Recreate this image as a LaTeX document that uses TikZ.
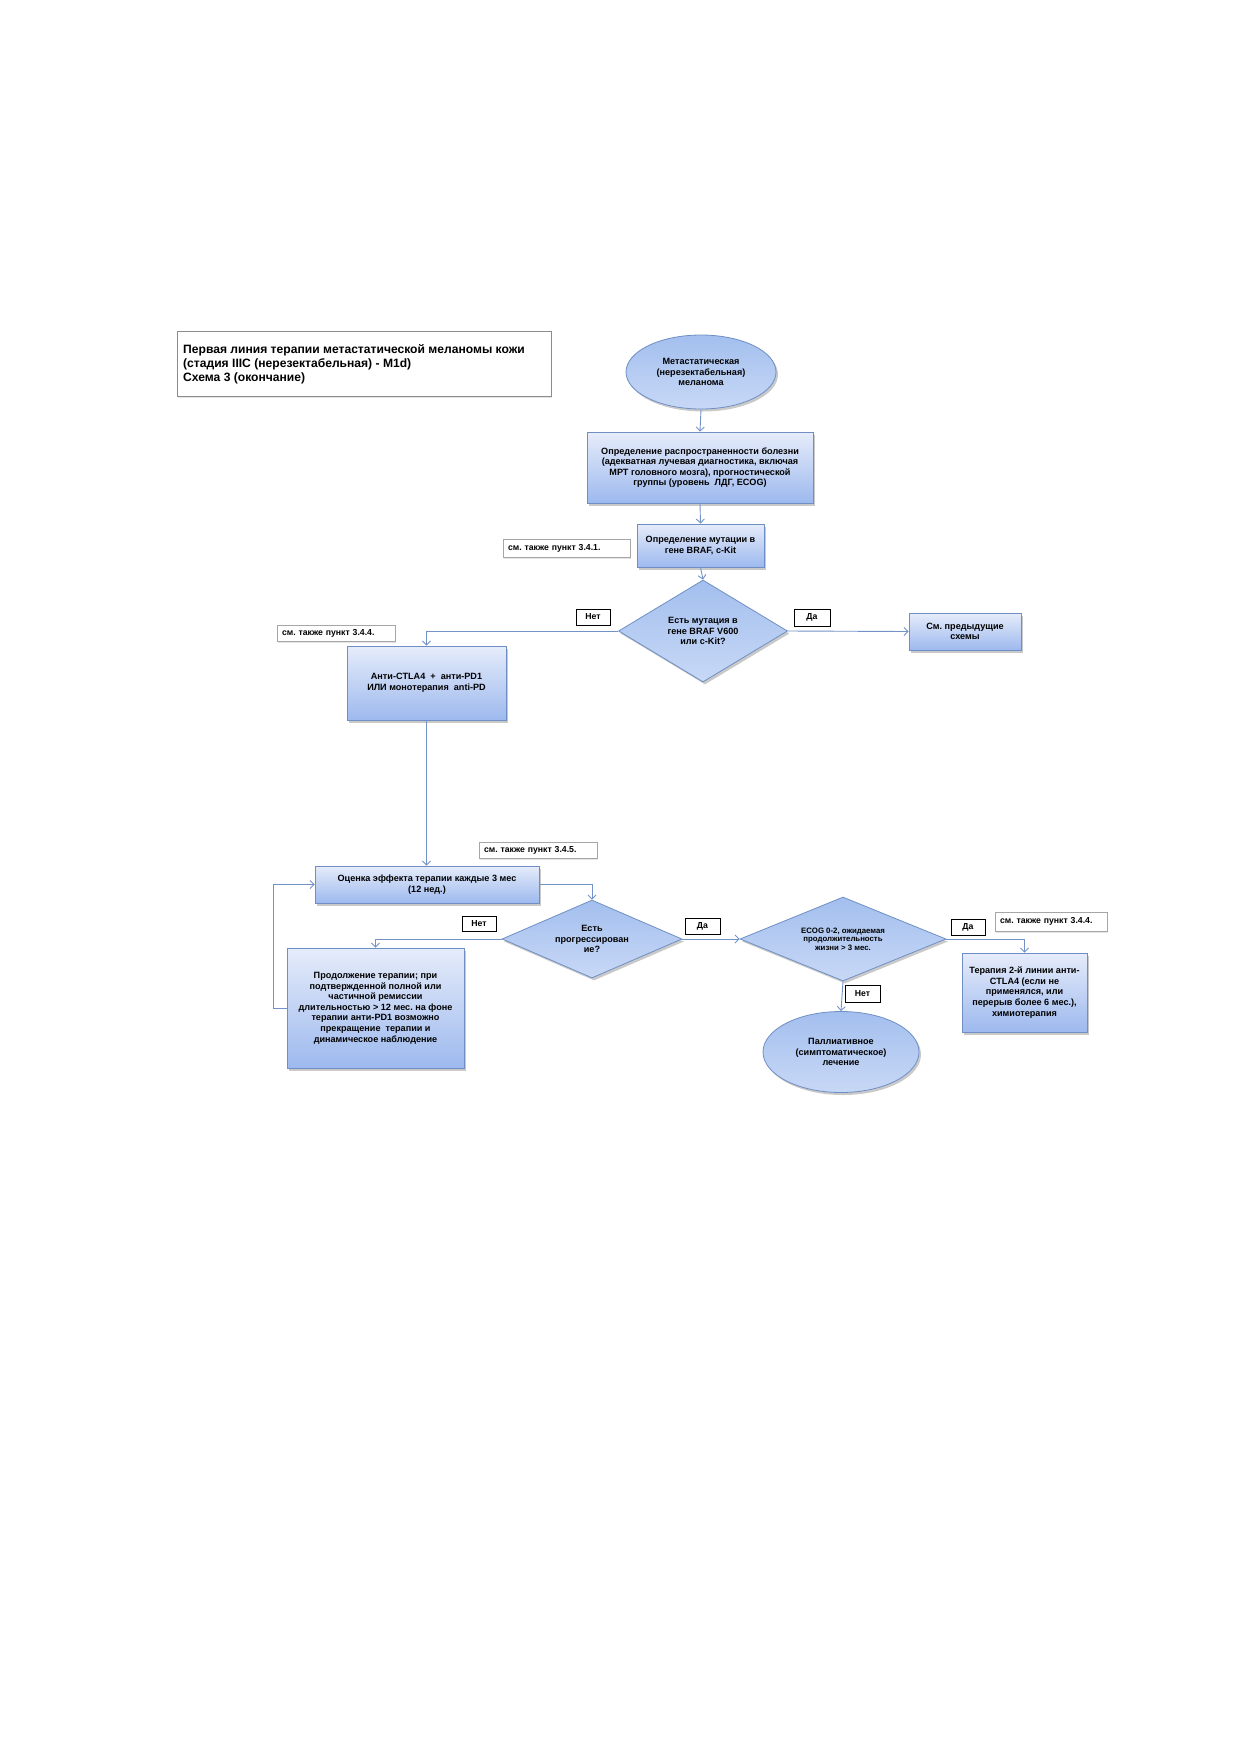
\documentclass[tikz,border=0pt]{standalone}
\usepackage{fontspec}
\setmainfont{Liberation Sans}
\frenchspacing
\usetikzlibrary{shapes.geometric,arrows.meta,shadows,shadings}
\definecolor{bordc}{HTML}{6F8FC4}
\definecolor{linec}{HTML}{7393C8}
\definecolor{topc}{HTML}{E6ECFA}
\definecolor{botc}{HTML}{9DB9EE}
\definecolor{dtop}{HTML}{A3BFEE}
\definecolor{dbot}{HTML}{C8D8F6}
\tikzset{
  txt/.style={font=\fontsize{9.1}{10.6}\selectfont\bfseries, align=center},
  sh/.style={drop shadow={shadow xshift=2pt, shadow yshift=-2.5pt, opacity=0.35, fill=black!60}},
  bluebox/.style={rectangle, draw=bordc, line width=0.8pt, top color=topc, bottom color=botc, sh, txt, inner sep=0pt},
  blueell/.style={ellipse, draw=bordc, line width=0.8pt, top color=dtop, bottom color=dbot, sh, txt, inner sep=0pt},
  bluedia/.style={diamond, draw=bordc, line width=0.8pt, top color=dtop, bottom color=dbot, sh, txt, inner sep=0pt},
  yn/.style={rectangle, draw=black, line width=0.8pt, fill=white, font=\fontsize{8.7}{10}\selectfont\bfseries, inner sep=0pt},
  seebox/.style={rectangle, draw=black!35, line width=0.7pt, fill=white, font=\fontsize{8.7}{10}\selectfont\bfseries, inner sep=0pt,
    drop shadow={shadow xshift=1pt, shadow yshift=-1.5pt, opacity=0.2, fill=black!50}},
  conn/.style={draw=linec, line width=0.9pt, -{Straight Barb[length=4pt,width=8pt]}},
}
\begin{document}
\begin{tikzpicture}[x=1pt,y=-1pt]
\useasboundingbox (0,0) rectangle (1240,1754);
\fill[white] (0,0) rectangle (1240,1754);

% title
\node[rectangle, draw=black!45, line width=0.8pt, fill=white, minimum width=374pt, minimum height=65pt, inner sep=0pt,
  drop shadow={shadow xshift=1pt, shadow yshift=-1.5pt, opacity=0.2, fill=black!50}] (title) at (364,363.5) {};
\node[anchor=west, align=left, font=\fontsize{12.1}{14}\selectfont\bfseries, inner sep=0pt] (titletext) at (183,364)
  {Первая линия терапии метастатической меланомы кожи\\(стадия IIIC (нерезектабельная) - M1d)\\Схема 3 (окончание)};

% main chain
\node[blueell, minimum width=150pt, minimum height=74pt] (e1) at (701,372)
  {Метастатическая\\(нерезектабельная)\\меланома};
\node[bluebox, minimum width=226pt, minimum height=71pt] (b2) at (700,467.5)
  {Определение распространенности болезни\\(адекватная лучевая диагностика, включая\\МРТ головного мозга), прогностической\\группы (уровень \ ЛДГ, ECOG)};
\node[bluebox, minimum width=127pt, minimum height=43pt] (b3) at (700.5,545.5)
  {Определение мутации в\\гене BRAF, c-Kit};
\node[seebox, minimum width=127pt, minimum height=18pt, text width=117pt, align=left] (see1) at (566.5,548)
  {см. также пункт 3.4.1.};
\node[bluedia, minimum width=169pt, minimum height=102pt, aspect=1.66] (d1) at (703,631)
  {Есть мутация в\\гене BRAF V600\\или c-Kit?};
\node[yn, minimum width=34pt, minimum height=16pt] (no1) at (593,617) {Нет};
\node[yn, minimum width=36pt, minimum height=17pt] (yes1) at (812,617.5) {Да};
\node[bluebox, minimum width=112pt, minimum height=37pt] (prev) at (965,631.5)
  {См. предыдущие\\схемы};
\node[seebox, minimum width=118pt, minimum height=16pt, text width=108pt, align=left] (see2) at (336,633)
  {см. также пункт 3.4.4.};
\node[bluebox, minimum width=159pt, minimum height=74pt] (anti) at (426.5,683)
  {Анти-CTLA4 \ + \ анти-PD1\\ИЛИ монотерапия \ anti-PD};
\node[seebox, minimum width=118pt, minimum height=16pt, text width=108pt, align=left] (see3) at (538,850)
  {см. также пункт 3.4.5.};
\node[bluebox, minimum width=224pt, minimum height=37pt] (ots) at (427,884.5)
  {Оценка эффекта терапии каждые 3 мес\\(12 нед.)};
\node[bluedia, minimum width=180pt, minimum height=78pt, aspect=2.3] (d2) at (592,939)
  {Есть\\прогрессирован\\ие?};
\node[yn, minimum width=34pt, minimum height=15pt] (no2) at (479,923.5) {Нет};
\node[yn, minimum width=35pt, minimum height=16pt] (yes2) at (702.5,926) {Да};
\node[bluebox, minimum width=177pt, minimum height=120pt] (prod) at (375.5,1008)
  {Продолжение терапии; при\\подтвержденной полной или\\частичной ремиссии\\длительностью > 12 мес. на фоне\\терапии анти-PD1 возможно\\прекращение \ терапии и\\динамическое наблюдение};
\node[bluedia, minimum width=206pt, minimum height=84pt, aspect=2.45, font=\fontsize{7.8}{8.6}\selectfont\bfseries] (d3) at (843,939)
  {ECOG 0-2, ожидаемая\\продолжительность\\жизни > 3 мес.};
\node[yn, minimum width=35pt, minimum height=17pt] (no3) at (862.5,993.5) {Нет};
\node[blueell, minimum width=156pt, minimum height=81pt] (pal) at (841,1052)
  {Паллиативное\\(симптоматическое)\\лечение};
\node[yn, minimum width=34pt, minimum height=16pt] (yes3) at (968,927) {Да};
\node[seebox, minimum width=112pt, minimum height=19pt, text width=102pt, align=left] (see4) at (1051,921.5)
  {см. также пункт 3.4.4.};
\node[bluebox, minimum width=125pt, minimum height=79pt] (t2) at (1024.5,992.5)
  {Терапия 2-й линии анти-\\CTLA4 (если не\\применялся, или\\перерыв более 6 мес.),\\химиотерапия};

% connectors
\draw[conn] (e1.south) -- (b2.north);
\draw[conn] (b2.south) -- (b3.north);
\draw[conn] (b3.south) -- (d1.north);
\draw[conn] (d1.east) -- (prev.west);
\draw[conn] (d1.west) -| (anti.north);
\draw[conn] (anti.south) -- (anti.south |- ots.north);
\draw[conn] (ots.east) -| (d2.north);
\draw[conn] (d2.west) -| (prod.north);
\draw[conn] (d2.east) -- (d3.west);
\draw[conn] (d3.east) -| (t2.north);
\draw[conn] (d3.south) -- (pal.north);
\coordinate (loopc) at ([xshift=-13pt]prod.west);
\draw[conn] (prod.west) -- (loopc) |- (ots.west);
\end{tikzpicture}
\end{document}
